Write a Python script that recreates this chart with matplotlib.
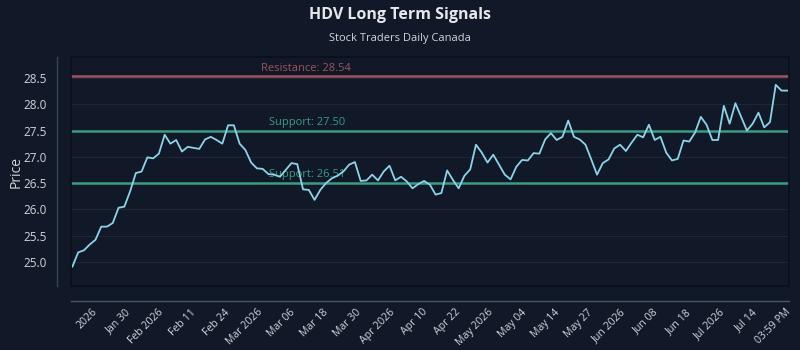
import numpy as np
import matplotlib
matplotlib.use("Agg")
import matplotlib.pyplot as plt
from matplotlib.patches import Rectangle

plt.rcParams['font.family'] = ['Open Sans', 'DejaVu Sans']

# ---- data ----
prices = [
    24.91, 25.18, 25.22, 25.33, 25.42, 25.67, 25.67, 25.74, 26.03, 26.05,
    26.34, 26.69, 26.72, 26.99, 26.97, 27.06, 27.42, 27.25, 27.32, 27.10,
    27.19, 27.17, 27.15, 27.33, 27.38, 27.32, 27.25, 27.60, 27.60, 27.25,
    27.13, 26.89, 26.78, 26.77, 26.67, 26.66, 26.62, 26.75, 26.88, 26.86,
    26.38, 26.37, 26.18, 26.37, 26.50, 26.59, 26.64, 26.72, 26.85, 26.90,
    26.54, 26.55, 26.66, 26.55, 26.72, 26.83, 26.55, 26.62, 26.53, 26.40,
    26.48, 26.54, 26.47, 26.28, 26.31, 26.74, 26.56, 26.40, 26.64, 26.76,
    27.23, 27.08, 26.89, 27.04, 26.85, 26.66, 26.57, 26.81, 26.94, 26.93,
    27.07, 27.06, 27.33, 27.45, 27.32, 27.38, 27.69, 27.38, 27.33, 27.23,
    26.95, 26.66, 26.88, 26.95, 27.16, 27.23, 27.11, 27.27, 27.42, 27.37,
    27.61, 27.32, 27.38, 27.08, 26.93, 26.96, 27.31, 27.29, 27.46, 27.76,
    27.61, 27.32, 27.32, 27.97, 27.63, 28.02, 27.76, 27.50, 27.63, 27.84,
    27.56, 27.66, 28.37, 28.26, 28.26,
]
tick_labels = ["2026", "Jan 30", "Feb 2026", "Feb 11", "Feb 24", "Mar 2026",
               "Mar 06", "Mar 18", "Mar 30", "Apr 2026", "Apr 10", "Apr 22",
               "May 2026", "May 04", "May 14", "May 27", "Jun 2026", "Jun 08",
               "Jun 18", "Jul 2026", "Jul 14", "03:59 PM"]
resistance = [28.54]
supports = [27.50, 26.51]
yticks = [25.0, 25.5, 26.0, 26.5, 27.0, 27.5, 28.0, 28.5]

BG = '#111827'
TXT = '#d1d5db'
LINE = '#8dd3e8'
RES_C = '#a0525f'
SUP_C = '#3c9b83'

fig = plt.figure(figsize=(8, 3.5), dpi=100, facecolor=BG)
ax = fig.add_axes([70.7/800, 1-286/350, (789-70.7)/800, (286-57)/350])
ax.set_facecolor(BG)

# spines first (set_position resets tick formatting)
for side in ['top', 'right']:
    ax.spines[side].set_visible(False)
ax.spines['left'].set_position(('outward', 10))
ax.spines['bottom'].set_position(('outward', 11))
ax.spines['left'].set_color('#3b4455')
ax.spines['bottom'].set_color('#4b5563')
ax.spines['left'].set_linewidth(1)
ax.spines['bottom'].set_linewidth(1)

n = len(prices)
x = np.arange(n)
ax.plot(x, prices, color=LINE, lw=1.3, zorder=4)

for r in resistance:
    ax.axhline(r, color=RES_C, lw=1.8, zorder=3)
    ax.text(0.265, r + 0.04, f"Resistance: {r:.2f}", transform=ax.get_yaxis_transform(),
            color=RES_C, fontsize=8, va='bottom', ha='left')
for s in supports:
    ax.axhline(s, color=SUP_C, lw=1.8, zorder=3)
    ax.text(0.276, s + 0.04, f"Support: {s:.2f}", transform=ax.get_yaxis_transform(),
            color=SUP_C, fontsize=8, va='bottom', ha='left', zorder=2)

ax.set_xlim(-0.3, n - 1 + 0.3)
ax.set_ylim(24.54, 28.90)
ax.set_yticks(yticks)
ax.set_yticklabels([f"{v:.1f}" for v in yticks])
ax.grid(axis='y', color='#1e2635', lw=0.8, zorder=1)

spacing = (n - 1 + 0.6) / 718.3
tpos = [(-0.3) + (92 - 70.7 + 33 * k) * spacing for k in range(len(tick_labels))]
ax.set_xticks(tpos)
ax.set_xticklabels(tick_labels, rotation=45, ha='right', rotation_mode='anchor')

ax.tick_params(axis='both', length=0, colors=TXT)
ax.tick_params(axis='x', pad=4, labelsize=7.6)
ax.tick_params(axis='y', pad=7, labelsize=8.5)

ax.add_patch(Rectangle((0, 0), 1, 1, transform=ax.transAxes, fill=False,
                       edgecolor='#0a0f1a', lw=1.2, zorder=5, clip_on=False))

ax.set_ylabel("Price", color=TXT, fontsize=10, labelpad=0)

fig.text(0.5, 1 - 15/350, "HDV Long Term Signals", ha='center', va='center',
         color='#e5e7eb', fontsize=11.5, fontweight='bold')
fig.text(0.5, 1 - 38/350, "Stock Traders Daily Canada", ha='center', va='center',
         color=TXT, fontsize=8)

fig.savefig("out.png", dpi=100, facecolor=BG)
